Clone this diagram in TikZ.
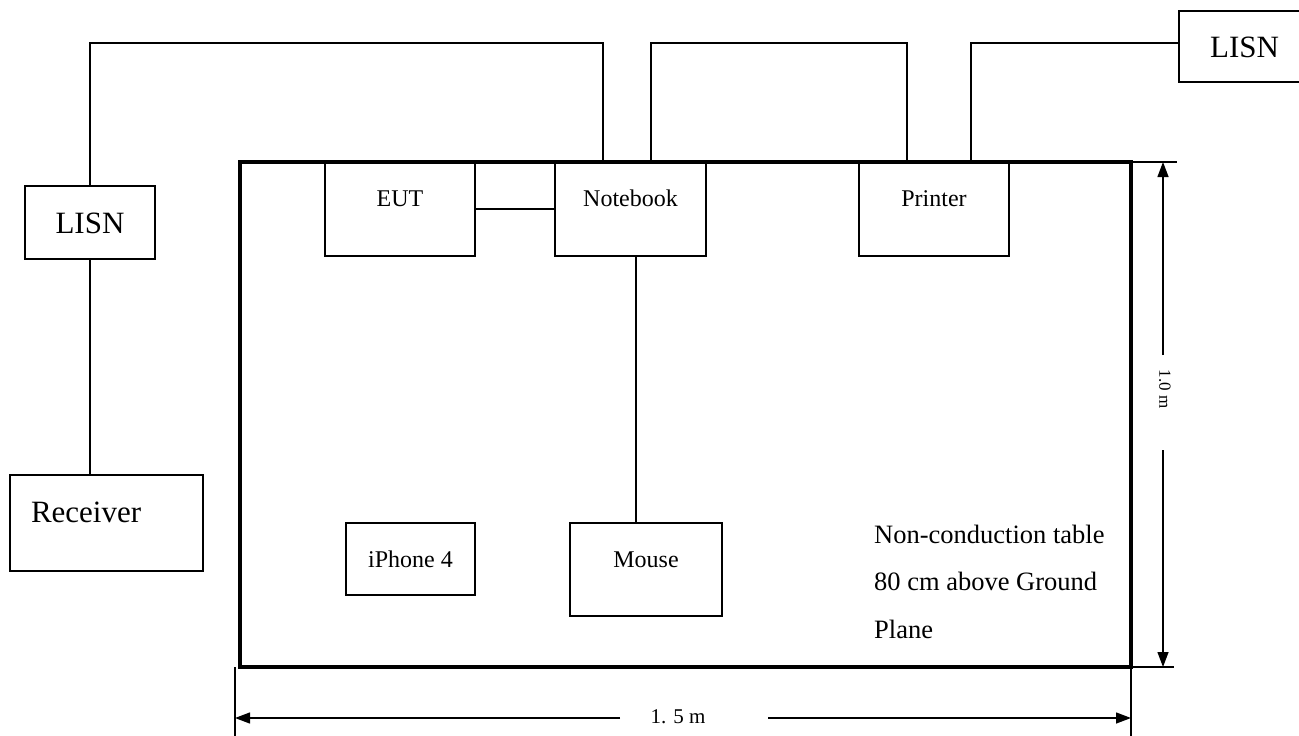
\documentclass[tikz,border=0pt]{standalone}
\usepackage{fontspec}
\setmainfont{Liberation Serif}
\usetikzlibrary{arrows.meta,calc}
\begin{document}
\begin{tikzpicture}[x=1pt,y=-1pt,
  box/.style={draw, line width=1.5pt, inner sep=0pt, outer sep=0pt, anchor=north west, font=\fontsize{24}{28}\selectfont},
  bigbox/.style={box, font=\fontsize{31}{36}\selectfont},
  wire/.style={line width=1.5pt},
  tablebox/.style={draw, line width=3.5pt, inner sep=0pt, outer sep=0pt, anchor=north west},
  dimline/.style={line width=1.3pt},
  dimarrow/.style={line width=1.3pt, -{Triangle[length=15pt,width=11pt]}}
]
\useasboundingbox (0,0) rectangle (1299,736);

% table
\node[tablebox, minimum width=891pt, minimum height=505pt] (tbl) at (240,162) {};

% devices on the table
\node[box, minimum width=150pt, text height=44pt, text depth=50pt] (eut) at (325,162) {EUT};
\node[box, minimum width=151pt, text height=44pt, text depth=50pt] (nb) at (555,162) {Notebook};
\node[box, minimum width=150pt, text height=44pt, text depth=50pt] (pr) at (859,162) {Printer};
\node[box, minimum width=152pt, text height=44pt, text depth=49pt] (mouse) at (570,523) {Mouse};
\node[box, minimum width=129pt, text height=44pt, text depth=28pt] (iph) at (346,523) {iPhone 4};

% outside equipment
\node[bigbox, minimum width=130pt, text height=47pt, text depth=26pt] (lisnL) at (25,186) {LISN};
\node[bigbox, minimum width=131pt, text height=46pt, text depth=25pt] (lisnR) at (1179,11) {LISN};
\node[bigbox, text height=47pt, text depth=49pt, inner xsep=21pt] (recv) at (10,475) {\makebox[151pt][l]{Receiver}};

% wires
\coordinate (w1) at (603,43);
\coordinate (w2) at (651,43);
\coordinate (w3) at (907,43);
\coordinate (w4) at (971,162);
\coordinate (w5) at (971,43);
\coordinate (wm) at (636,256);
\draw[wire] (lisnL.north) |- (w1) -- (w1 |- nb.north);
\draw[wire] (w2 |- nb.north) -- (w2) -- (w3) -- (w3 |- pr.north);
\draw[wire] (w4) -- (w5) -- (w5 -| lisnR.west);
\draw[wire] (eut.east) -- (nb.west);
\draw[wire] (wm) -- (wm |- mouse.north);
\draw[wire] (lisnL.south) -- (lisnL.south |- recv.north);

% table note
\node[anchor=base west, align=left, inner sep=0pt, font=\fontsize{26.5}{47.5}\selectfont] (note) at (874,638)
  {Non-conduction table\\80 cm above Ground\\Plane};

% dimension: height
\coordinate (vt) at (1163,162);
\coordinate (vb) at (1163,667);
\coordinate (vg1) at (1163,355);
\coordinate (vg2) at (1163,450);
\draw[dimline] (tbl.north east) -- (1177,162);
\draw[dimline] (tbl.south east) -- (1174,667);
\draw[dimarrow] (vg1) -- (vt);
\draw[dimarrow] (vg2) -- (vb);
\node[rotate=-90, inner sep=0pt, font=\fontsize{17}{20}\selectfont] (hlab) at (1165,389) {1.0 m};

% dimension: width
\coordinate (hl) at (235,718);
\coordinate (hr) at (1131,718);
\coordinate (hg1) at (620,718);
\coordinate (hg2) at (768,718);
\draw[dimline] (235,667) -- (235,736);
\draw[dimline] (tbl.south east) -- (1131,736);
\draw[dimarrow] (hg1) -- (hl);
\draw[dimarrow] (hg2) -- (hr);
\node[anchor=base, inner sep=0pt, font=\fontsize{21}{24}\selectfont] (wlab) at (678,723) {1. 5 m};
\end{tikzpicture}
\end{document}
